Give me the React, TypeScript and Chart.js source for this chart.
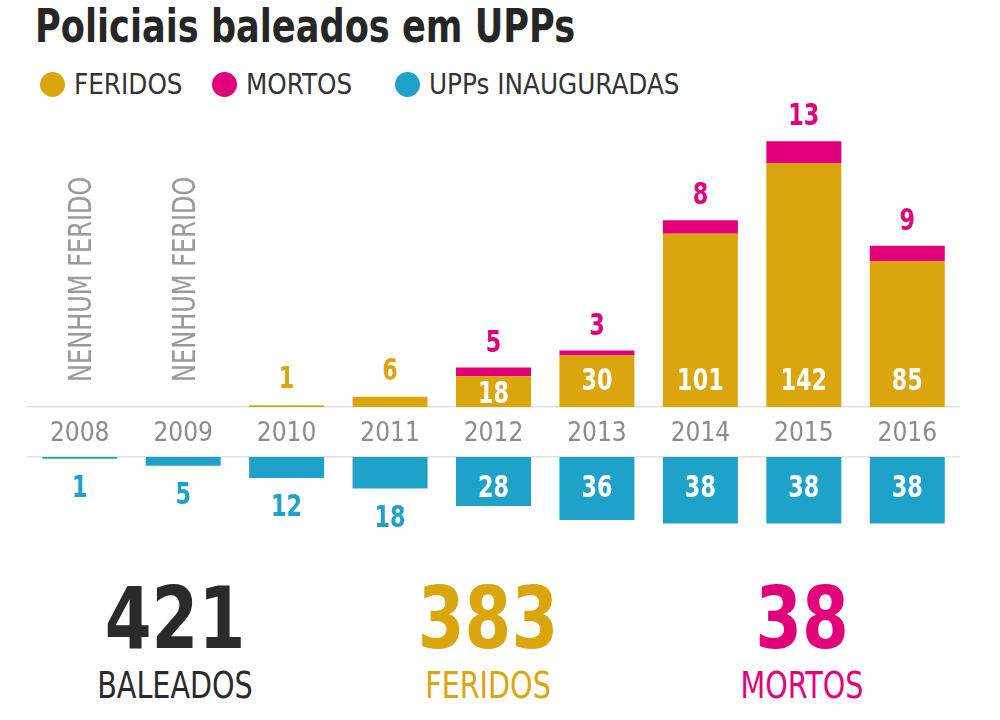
import React, { useEffect, useRef } from "react";
import { Chart, registerables } from "chart.js";

Chart.register(...registerables);

// ---------- data ----------
const years = ["2008", "2009", "2010", "2011", "2012", "2013", "2014", "2015", "2016"];
const feridos = [0, 0, 1, 6, 18, 30, 101, 142, 85];
const mortos = [0, 0, 0, 0, 5, 3, 8, 13, 9];
const upps = [1, 5, 12, 18, 28, 36, 38, 38, 38];
const seriesNames = ["FERIDOS", "MORTOS", "UPPs INAUGURADAS"];
const seriesColors = ["#DBA50E", "#E2007A", "#1FA2C9"];
const titleText = "Policiais baleados em UPPs";
const noneLabel = "NENHUM FERIDO";
const totalLabels = ["BALEADOS", "FERIDOS", "MORTOS"];

const NARROW = "'Liberation Sans Narrow', 'DejaVu Sans Condensed', 'Arial Narrow', 'Liberation Sans', sans-serif";
const GRID = "#e2e2e2";
const LABEL_SX = 0.8; // horizontal condensing of value labels

const sum = (a: number[]) => a.reduce((s, v) => s + v, 0);

function boldFont(px: number) {
  return `bold ${px}px ${NARROW}`;
}

function fillScaled(ctx: CanvasRenderingContext2D, text: string, x: number, y: number, sx: number) {
  ctx.save();
  ctx.translate(x, y);
  ctx.scale(sx, 1);
  ctx.fillText(text, 0, 0);
  ctx.restore();
}

const topLabelsPlugin = {
  id: "topLabels",
  afterDatasetsDraw(chart: any) {
    const ctx = chart.ctx as CanvasRenderingContext2D;
    const mF = chart.getDatasetMeta(0);
    const mM = chart.getDatasetMeta(1);
    ctx.save();
    ctx.textAlign = "center";
    ctx.textBaseline = "alphabetic";
    feridos.forEach((v, i) => {
      const fb: any = mF.data[i];
      const mb: any = mM.data[i];
      const x = fb.x;
      const base = fb.base;
      const m = mortos[i];
      if (v === 0 && m === 0) {
        const fs = 32;
        ctx.save();
        ctx.translate(x + fs * 0.36, base - 25);
        ctx.rotate(-Math.PI / 2);
        ctx.textAlign = "left";
        ctx.fillStyle = "#9a9a9a";
        ctx.font = `${fs}px ${NARROW}`;
        fillScaled(ctx, noneLabel, 0, 0, 0.835);
        ctx.restore();
        return;
      }
      const fs = 31;
      ctx.font = boldFont(fs);
      const fh = base - fb.y;
      if (v > 0) {
        if (fh >= 26) {
          const cy = Math.max(base - 28, fb.y + 16);
          ctx.fillStyle = "#ffffff";
          fillScaled(ctx, String(v), x, cy + fs * 0.36, LABEL_SX);
        } else {
          const top = m > 0 ? mb.y : fb.y;
          ctx.fillStyle = seriesColors[0];
          fillScaled(ctx, String(v), x, top - 28 + fs * 0.36, LABEL_SX);
        }
      }
      if (m > 0) {
        ctx.fillStyle = seriesColors[1];
        fillScaled(ctx, String(m), x, mb.y - 27 + fs * 0.36, LABEL_SX);
      }
    });
    ctx.restore();
  },
};

const bottomLabelsPlugin = {
  id: "bottomLabels",
  afterDatasetsDraw(chart: any) {
    const ctx = chart.ctx as CanvasRenderingContext2D;
    const meta = chart.getDatasetMeta(0);
    ctx.save();
    ctx.textAlign = "center";
    ctx.textBaseline = "alphabetic";
    const fs = 31;
    ctx.font = boldFont(fs);
    upps.forEach((v, i) => {
      const b: any = meta.data[i];
      const h = Math.abs(b.y - b.base);
      if (h >= 40) {
        ctx.fillStyle = "#ffffff";
        fillScaled(ctx, String(v), b.x, b.base + 29 + fs * 0.36, LABEL_SX);
      } else {
        ctx.fillStyle = seriesColors[2];
        fillScaled(ctx, String(v), b.x, b.y + 27 + fs * 0.36, LABEL_SX);
      }
    });
    ctx.restore();
  },
};

export default function App() {
  const topRef = useRef<HTMLCanvasElement>(null);
  const botRef = useRef<HTMLCanvasElement>(null);

  useEffect(() => {
    const top = new Chart(topRef.current!, {
      type: "bar",
      data: {
        labels: years,
        datasets: [
          {
            label: seriesNames[0],
            data: feridos,
            backgroundColor: seriesColors[0],
            borderWidth: 0,
            barPercentage: 0.725,
            categoryPercentage: 1,
          },
          {
            label: seriesNames[1],
            data: mortos,
            backgroundColor: seriesColors[1],
            borderWidth: 0,
            barPercentage: 0.725,
            categoryPercentage: 1,
          },
        ],
      },
      options: {
        responsive: false,
        animation: false,
        devicePixelRatio: 1,
        layout: { padding: { left: 28, right: 41, top: 12, bottom: 0 } },
        plugins: { legend: { display: false }, tooltip: { enabled: false } },
        scales: {
          x: {
            stacked: true,
            grid: { display: false, drawTicks: false },
            border: { display: true, color: GRID, width: 1.5 },
            ticks: {
              color: "#8c8c8c",
              font: { family: NARROW, size: 26 },
              padding: 12,
              autoSkip: false,
              maxRotation: 0,
            },
            afterFit: (s: any) => {
              s.height = 48;
            },
          },
          y: { stacked: true, display: false, min: 0, max: 175 },
        },
      },
      plugins: [topLabelsPlugin],
    });

    const bottom = new Chart(botRef.current!, {
      type: "bar",
      data: {
        labels: years,
        datasets: [
          {
            label: seriesNames[2],
            data: upps,
            backgroundColor: seriesColors[2],
            borderWidth: 0,
            barPercentage: 0.725,
            categoryPercentage: 1,
          },
        ],
      },
      options: {
        responsive: false,
        animation: false,
        devicePixelRatio: 1,
        layout: { padding: { left: 28, right: 41, top: 5, bottom: 15 } },
        plugins: { legend: { display: false }, tooltip: { enabled: false } },
        scales: {
          x: {
            position: "top",
            grid: { display: false, drawTicks: false },
            border: { display: true, color: GRID, width: 1.5 },
            ticks: { display: false },
          },
          y: { display: false, reverse: true, min: 0, max: 40 },
        },
      },
      plugins: [bottomLabelsPlugin],
    });

    return () => {
      top.destroy();
      bottom.destroy();
    };
  }, []);

  const totals = [sum(feridos) + sum(mortos), sum(feridos), sum(mortos)];
  const totalColors = ["#2a2a2a", seriesColors[0], seriesColors[1]];
  const totalCenters = [175, 488, 802];
  const legendLefts = [40, 212, 395];

  return (
    <div
      style={{
        position: "absolute",
        left: 0,
        top: 0,
        width: 1000,
        height: 720,
        background: "#fff",
        overflow: "hidden",
        fontFamily: NARROW,
      }}
    >
      <div
        style={{
          position: "absolute",
          left: 35,
          top: 3,
          fontSize: 46,
          lineHeight: "46px",
          fontWeight: "bold",
          color: "#262626",
          whiteSpace: "nowrap",
          transform: "scaleX(0.85)",
          transformOrigin: "0 0",
        }}
      >
        {titleText}
      </div>

      {seriesNames.map((n, i) => (
        <div
          key={n}
          style={{
            position: "absolute",
            left: legendLefts[i],
            top: 72,
            height: 25,
            display: "flex",
            alignItems: "center",
            whiteSpace: "nowrap",
          }}
        >
          <span
            style={{
              display: "inline-block",
              width: 25,
              height: 25,
              borderRadius: "50%",
              background: seriesColors[i],
              marginRight: 9,
            }}
          />
          <span style={{ fontSize: 27.5, lineHeight: "27px", color: "#333" }}>{n}</span>
        </div>
      ))}

      <canvas
        ref={topRef}
        width={1000}
        height={360}
        style={{ position: "absolute", left: 0, top: 95, width: 1000, height: 360 }}
      />
      <canvas
        ref={botRef}
        width={1000}
        height={90}
        style={{ position: "absolute", left: 0, top: 452, width: 1000, height: 90 }}
      />

      {totals.map((t, i) => (
        <div
          key={totalLabels[i]}
          style={{
            position: "absolute",
            left: totalCenters[i] - 150,
            width: 300,
            top: 0,
            textAlign: "center",
            color: totalColors[i],
          }}
        >
          <div
            style={{
              position: "absolute",
              left: 0,
              width: 300,
              top: 575,
              fontSize: 86,
              lineHeight: "86px",
              fontWeight: "bold",
              transform: "scaleX(0.87)",
              transformOrigin: "50% 0",
            }}
          >
            {t}
          </div>
          <div
            style={{
              position: "absolute",
              left: 0,
              width: 300,
              top: 667,
              fontSize: 37,
              lineHeight: "37px",
              transform: "scaleX(0.86)",
              transformOrigin: "50% 0",
            }}
          >
            {totalLabels[i]}
          </div>
        </div>
      ))}
    </div>
  );
}
